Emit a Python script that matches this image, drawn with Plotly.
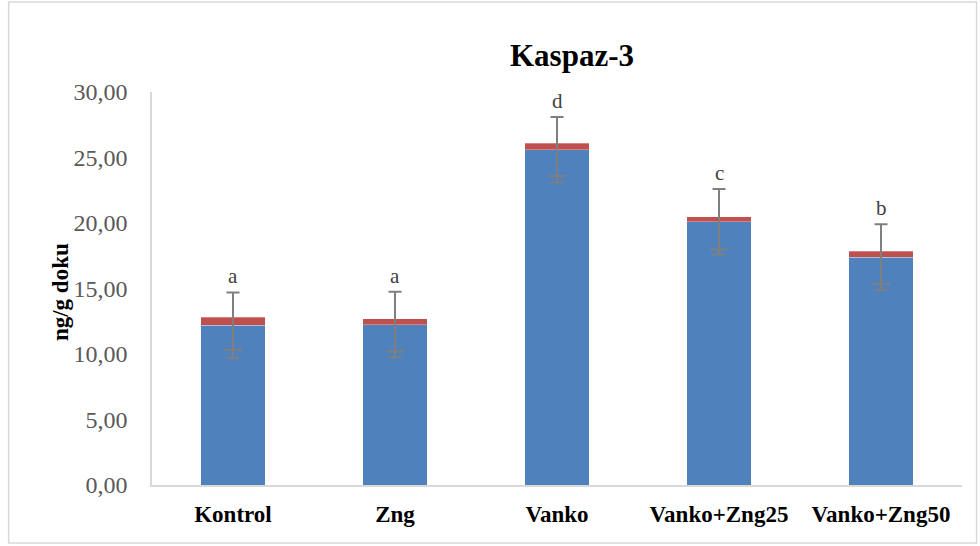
import plotly.graph_objects as go

# Caspase-3 levels per group (ng/g tissue)
groups = ["Kontrol", "Zng", "Vanko", "Vanko+Zng25", "Vanko+Zng50"]
mean_values = [12.20, 12.25, 25.60, 20.10, 17.40]
upper_part = [0.62, 0.45, 0.48, 0.38, 0.45]
std_error = [2.5, 2.5, 2.5, 2.5, 2.5]
sig_letters = ["a", "a", "d", "c", "b"]
y_ticks = [0, 5, 10, 15, 20, 25, 30]

BLUE = "#4F81BD"
RED = "#C0504D"
ERR = "#7F7F7F"
SERIF = "Liberation Serif"

fig = go.Figure()

fig.add_trace(go.Bar(
    x=groups, y=mean_values, marker=dict(color=BLUE, line=dict(color="rgba(255,255,255,0.5)", width=0.6)),
    hoverinfo="skip", showlegend=False,
))
fig.add_trace(go.Bar(
    x=groups, y=upper_part, marker=dict(color=RED, line=dict(color="rgba(255,255,255,0.5)", width=0.6)),
    hoverinfo="skip", showlegend=False,
))

# symmetric error bars around the lower segment, drawn above both segments
fig.add_trace(go.Scatter(
    x=groups, y=mean_values, mode="markers", marker=dict(opacity=0, size=1),
    error_y=dict(type="data", array=std_error, visible=True, color=ERR, thickness=2, width=6.5),
    hoverinfo="skip", showlegend=False,
))

# lower cap of the error bar on the stacked total
stack_tops = [m + u for m, u in zip(mean_values, upper_part)]
fig.add_trace(go.Scatter(
    x=groups, y=[t - e for t, e in zip(stack_tops, std_error)], mode="markers",
    marker=dict(symbol="line-ew", size=13, line=dict(color=ERR, width=2)),
    hoverinfo="skip", showlegend=False,
))

# significance letters above each bar
for g, m, e, lbl in zip(groups, mean_values, std_error, sig_letters):
    fig.add_annotation(
        x=g, y=m + e, text=lbl, showarrow=False, yanchor="bottom", yshift=2,
        font=dict(family=SERIF, size=21, color="#404040"),
    )

# rotated y-axis title
fig.add_annotation(
    xref="paper", yref="paper", x=-0.1128, y=0.49, text="ng/g doku", textangle=-90,
    showarrow=False, xanchor="center", yanchor="middle",
    font=dict(family=SERIF, size=23, color="black", weight="bold"),
)

# chart frame
fig.add_shape(
    type="rect", xref="paper", yref="paper", x0=-0.177, x1=1.018, y0=-0.1476, y1=1.229,
    line=dict(color="#D9D9D9", width=1.5), fillcolor="rgba(0,0,0,0)", layer="below",
)

fig.update_layout(
    width=980, height=546,
    margin=dict(l=151.5, r=17.5, t=92, b=61),
    paper_bgcolor="white", plot_bgcolor="white",
    barmode="stack", bargap=0.6,
    separators=",.",
    title=dict(
        text="Kaspaz-3", x=572 / 980, y=1 - 55 / 546, xref="container", yref="container",
        xanchor="center", yanchor="middle",
        font=dict(family=SERIF, size=31, color="black", weight="bold"),
    ),
    xaxis=dict(
        showline=True, linecolor="#D9D9D9", linewidth=1.5, showgrid=False, ticks="",
        tickfont=dict(family=SERIF, size=23, color="black", weight="bold"),
        ticklabelstandoff=8,
    ),
    yaxis=dict(
        range=[0, 30], tickvals=y_ticks, tickformat=".2f",
        showline=True, linecolor="#D9D9D9", linewidth=1.5, showgrid=False, ticks="",
        tickfont=dict(family=SERIF, size=24, color="#595959"),
        ticklabelstandoff=18, zeroline=False,
    ),
)

fig.write_html("out.html")
